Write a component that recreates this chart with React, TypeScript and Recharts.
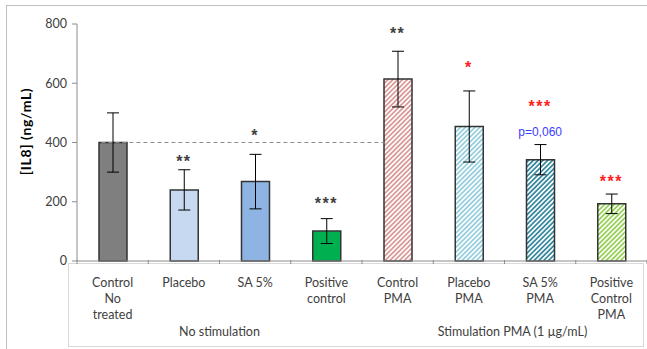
import { ComposedChart, Bar, Cell, ErrorBar, XAxis, YAxis, ReferenceLine, ReferenceDot } from 'recharts'

const categories = ['Control No treated', 'Placebo', 'SA 5%', 'Positive control', 'Control PMA', 'Placebo PMA', 'SA 5% PMA', 'Positive Control PMA']
const tickLines = [['Control', 'No', 'treated'], ['Placebo'], ['SA 5%'], ['Positive', 'control'], ['Control', 'PMA'], ['Placebo', 'PMA'], ['SA 5%', 'PMA'], ['Positive', 'Control', 'PMA']]
const il8 = [400, 240, 268, 101, 614, 454, 342, 193]
const il8Err = [100, 68, 92, 42, 94, 120, 51, 33]
const colors = ['#7f7f7f', '#c6d9f1', '#8eb4e3', '#00b050', '#d99694', '#93cddd', '#31859c', '#92d050']
const hatched = [false, false, false, false, true, true, true, true]
const yTicks = [0, 200, 400, 600, 800]
const groups = [
  { label: 'No stimulation', first: 0, count: 4 },
  { label: 'Stimulation PMA (1 µg/mL)', first: 4, count: 4 }
]
// significance marks: category, y (value units), text, colour
const marks = [
  { name: 'Placebo', y: 348, text: '**', color: '#404040' },
  { name: 'SA 5%', y: 436, text: '*', color: '#404040' },
  { name: 'Positive control', y: 206, text: '***', color: '#404040' },
  { name: 'Control PMA', y: 780, text: '**', color: '#404040' },
  { name: 'Placebo PMA', y: 664, text: '*', color: '#ff2020' },
  { name: 'SA 5% PMA', y: 533, text: '***', color: '#ff2020' },
  { name: 'Positive Control PMA', y: 279, text: '***', color: '#ff2020' }
]
const pNote = { name: 'SA 5% PMA', y: 437, text: 'p=0,060', color: '#3c3cff' }

const data = categories.map((name, i) => ({ name, value: il8[i], err: il8Err[i] }))

const AXIS = '#8c8c8c'
const TEXT = '#404040'
const FONT = 'Lato, "Open Sans", sans-serif'

const CategoryTick = (props: any) => {
  const { x, y, payload, index } = props
  const half = payload && payload.offset ? payload.offset : 35.6
  const lines = tickLines[index] || []
  const group = groups.find(g => g.first === index)
  return (
    <g>
      <line x1={x - half} x2={x - half} y1={y - 1} y2={y + 3} stroke={AXIS} />
      {index === categories.length - 1 && <line x1={x + half} x2={x + half} y1={y - 1} y2={y + 3} stroke={AXIS} />}
      {lines.map((l, k) => (
        <text key={k} x={x} y={y + 26 + k * 16} textAnchor="middle" fontSize={12.5} fontFamily={FONT} fill={TEXT}>
          {l}
        </text>
      ))}
      {group && (
        <text x={x - half + group.count * half + (group.first > 0 ? 8 : 0)} y={y + 75} textAnchor="middle" fontSize={12.5} fontFamily={FONT} fill={TEXT}>
          {group.label}
        </text>
      )}
    </g>
  )
}

const Mark = (props: any) => {
  const { cx, cy, text, color } = props
  const isStar = text.indexOf('*') === 0
  return (
    <text
      x={cx}
      y={cy + (isStar ? 9 : 4.3)}
      textAnchor="middle"
      fontSize={isStar ? 16 : 12}
      fontWeight={isStar ? 'bold' : 'normal'}
      letterSpacing={isStar ? 1.5 : 0}
      fontFamily='"Liberation Sans", Arial, sans-serif'
      fill={color}
    >
      {text}
    </text>
  )
}

const YLabel = (props: any) => {
  const vb = props.viewBox || { x: 0, y: 24, width: 77, height: 237 }
  const cx = vb.x + 25
  const cy = vb.y + vb.height / 2 - 11
  return (
    <text x={cx} y={cy} transform={`rotate(-90 ${cx} ${cy})`} textAnchor="middle" dominantBaseline="central" fontSize={14} letterSpacing={0.6} fontWeight="bold" fontFamily={FONT} fill="#000">
      [IL8] (ng/mL)
    </text>
  )
}

const App = () => {
  return (
    <div style={{ position: 'absolute', left: 0, top: 0, width: 647, height: 349, overflow: 'hidden', background: '#fff' }}>
      <svg width={0} height={0} style={{ position: 'absolute' }}>
        <defs>
          {colors.map((c, i) => (
            <pattern key={i} id={`hatch${i}`} patternUnits="userSpaceOnUse" width={3.4} height={3.4} patternTransform="rotate(45)">
              <rect width={3.4} height={3.4} fill="#fff" />
              <line x1={0.9} y1={0} x2={0.9} y2={3.4} stroke={c} strokeWidth={1.7} />
            </pattern>
          ))}
        </defs>
      </svg>
      <div style={{ position: 'absolute', left: 6, top: 5, width: 700, height: 400, borderLeft: '1px solid #bfbfbf', borderTop: '1px solid #bfbfbf' }} />
      <div style={{ position: 'absolute', left: 68, top: 263, width: 576, height: 84, border: '1px solid #d9d9d9', boxSizing: 'border-box' }} />
      <div style={{ position: 'absolute', left: 0, top: 0 }}>
        <ComposedChart width={647} height={349} data={data} margin={{ top: 24, right: 0, bottom: 0, left: 0 }}>
          <XAxis
            dataKey="name"
            interval={0}
            height={88}
            tickSize={0}
            tickMargin={0}
            tickLine={false}
            axisLine={{ stroke: AXIS }}
            tick={<CategoryTick />}
          />
          <XAxis xAxisId="pos" type="number" domain={[0, 8]} hide />
          <YAxis
            width={77}
            domain={[0, 800]}
            ticks={yTicks}
            interval={0}
            tickSize={5}
            tickMargin={5}
            axisLine={{ stroke: AXIS }}
            tickLine={{ stroke: AXIS }}
            tick={{ fontSize: 12.5, fontFamily: FONT, fill: TEXT }}
            label={<YLabel />}
          />
          <Bar dataKey="value" barSize={28} stroke="#333" strokeWidth={1.5} isAnimationActive={false}>
            {data.map((d, i) => (
              <Cell key={d.name} fill={hatched[i] ? `url(#hatch${i})` : colors[i]} />
            ))}
            <ErrorBar dataKey="err" width={6} stroke="#000" strokeWidth={1} direction="y" isAnimationActive={false} />
          </Bar>
          <ReferenceLine xAxisId="pos" segment={[{ x: 0.3, y: il8[0] }, { x: 3.8, y: il8[0] }]} stroke="#8c8c8c" strokeDasharray="4 3" />
          <ReferenceLine xAxisId="pos" segment={[{ x: 4.3, y: il8[4] }, { x: 8, y: il8[4] }]} stroke="#ff2020" strokeDasharray="4 3" />
          {[...marks, pNote].map((m, i) => (
            <ReferenceDot key={i} x={m.name} y={m.y} r={0} ifOverflow="visible" shape={(p: any) => <Mark {...p} text={m.text} color={m.color} />} />
          ))}
        </ComposedChart>
      </div>
    </div>
  )
}

export default App
